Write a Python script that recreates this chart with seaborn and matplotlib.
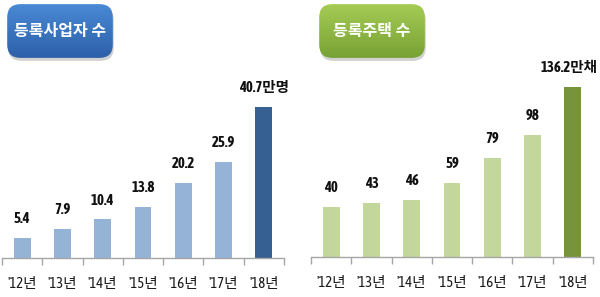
import numpy as np
import matplotlib
matplotlib.use("Agg")
import matplotlib.pyplot as plt
import seaborn as sns
from matplotlib.patches import FancyBboxPatch
from matplotlib import font_manager as fm

years = ["'12년", "'13년", "'14년", "'15년", "'16년", "'17년", "'18년"]
biz_values = [5.4, 7.9, 10.4, 13.8, 20.2, 25.9, 40.7]
biz_labels = ["5.4", "7.9", "10.4", "13.8", "20.2", "25.9", "40.7만명"]
house_values = [40, 43, 46, 59, 79, 98, 136.2]
house_labels = ["40", "43", "46", "59", "79", "98", "136.2만채"]
titles = ["등록사업자 수", "등록주택 수"]

sns.set_theme(style="white")
bold_narrow = sorted({f.name for f in fm.fontManager.ttflist
                      if ("Narrow" in f.name or "Condensed" in f.name)
                      and (f.weight in ("bold", 700, 600, "semibold", "demibold")
                           or (isinstance(f.weight, int) and f.weight >= 600))})
narrow = bold_narrow[:1]
fam = narrow + ["Noto Sans CJK KR", "DejaVu Sans"]
plt.rcParams['font.family'] = ["Noto Sans CJK KR", "DejaVu Sans"]

W, H = 600, 297
fig = plt.figure(figsize=(6, 2.97), dpi=100)

def make_ax(x0, x1, base, top):
    return fig.add_axes([x0 / W, (H - base) / H, (x1 - x0) / W, (base - top) / H])

blue_pal = ["#95b3d7"] * 6 + ["#365f92"]
green_pal = ["#c3d69b"] * 6 + ["#77933c"]

panels = [
    (make_ax(2, 284, 258, 60), biz_values, biz_labels, blue_pal, 198 / 3.71),
    (make_ax(311, 593, 257, 60), house_values, house_labels, green_pal, 197 / 1.25),
]

lab_size = 10.5 if narrow else 10
texts = []
for ax, vals, labs, pal, ymax in panels:
    sns.barplot(x=years, y=vals, hue=years, palette=pal, legend=False,
                width=0.42, ax=ax, saturation=1, edgecolor="none")
    ax.set_xlim(-0.5, 6.5)
    ax.set_ylim(0, ymax)
    all_bars = [p for c in ax.containers for p in c]
    for p, lab in zip(all_bars, labs):
        t = ax.annotate(lab, (p.get_x() + p.get_width() / 2, p.get_height()),
                        xytext=(0, 8.5), textcoords="offset points",
                        ha="center", va="bottom", fontsize=lab_size, fontweight="bold",
                        color="#111111", family=fam, clip_on=False)
        texts.append(t)
    for s in ["top", "right", "left"]:
        ax.spines[s].set_visible(False)
    ax.spines["bottom"].set_color("#a6a6a6")
    ax.spines["bottom"].set_linewidth(1)
    ax.set_yticks([])
    ax.set_xticks(range(7))
    ax.set_xticklabels(years, fontsize=10.5, color="#1a1a1a", family=fam)
    ax.tick_params(axis="x", which="major", length=0, pad=14)
    ax.set_xticks(np.arange(-0.5, 7, 1), minor=True)
    ax.tick_params(axis="x", which="minor", length=5, width=1, color="#a6a6a6",
                   bottom=True, direction="out")
    ax.set_xlabel("")
    ax.set_ylabel("")
    ax.patch.set_alpha(0)

# keep labels inside the figure
fig.canvas.draw()
r = fig.canvas.get_renderer()
for t in texts:
    bb = t.get_window_extent(r)
    if bb.x1 > W - 2:
        shift_pt = (bb.x1 - (W - 2)) * 72 / fig.dpi
        t.set_position((-shift_pt, 8.5))

boxes = [
    (5, 115, 3, 59, "#4a8ad6", "#2c5fa8", titles[0]),
    (317, 427, 3, 59, "#a6cc55", "#76a134", titles[1]),
]
for x0, x1, y0, y1, ctop, cbot, txt in boxes:
    sax = fig.add_axes([(x0 + 1) / W, (H - y1 - 3) / H, (x1 - x0) / W, (y1 - y0) / H])
    sax.set_axis_off()
    sax.set_xlim(0, 1); sax.set_ylim(0, 1)
    sh = FancyBboxPatch((0.02, 0.02), 0.96, 0.96, boxstyle="round,pad=0,rounding_size=0.12",
                        mutation_aspect=(x1 - x0) / (y1 - y0),
                        facecolor="#000000", alpha=0.18, edgecolor="none",
                        transform=sax.transAxes)
    sax.add_patch(sh)
    bax = fig.add_axes([x0 / W, (H - y1) / H, (x1 - x0) / W, (y1 - y0) / H])
    bax.set_axis_off()
    bax.set_xlim(0, 1); bax.set_ylim(0, 1)
    c1 = np.array(matplotlib.colors.to_rgb(ctop))
    c2 = np.array(matplotlib.colors.to_rgb(cbot))
    tt = np.linspace(0, 1, 100)[:, None]
    grad = (c1[None, :] * (1 - tt) + c2[None, :] * tt)[:, None, :]
    img = bax.imshow(grad, extent=[0, 1, 0, 1], aspect="auto", origin="upper")
    clip = FancyBboxPatch((0.02, 0.02), 0.96, 0.96, boxstyle="round,pad=0,rounding_size=0.12",
                          mutation_aspect=(x1 - x0) / (y1 - y0),
                          facecolor="none", edgecolor="none", transform=bax.transAxes)
    bax.add_patch(clip)
    img.set_clip_path(clip)
    bax.text(0.5, 0.5, txt, ha="center", va="center", color="white",
             fontsize=11.5, fontweight="bold", family=["Noto Sans CJK KR", "DejaVu Sans"],
             transform=bax.transAxes)

fig.savefig("out.png", dpi=100)
